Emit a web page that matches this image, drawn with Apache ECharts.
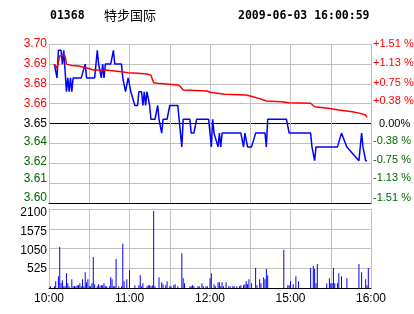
<!DOCTYPE html>
<html><head><meta charset="utf-8">
<script src="https://cdn.jsdelivr.net/npm/echarts@6/dist/echarts.min.js"></script>
<style>html,body{margin:0;padding:0;background:#fff;}#c{width:414px;height:314px;}</style>
</head><body><div id="c"></div>
<script>
const stockCode = '01368';
const stockName = '特步国际';
const stampText = '2009-06-03 16:00:59';

const priceTickLabels = ['3.60','3.61','3.62','3.64','3.65','3.66','3.68','3.69','3.70'];
const pctTickLabels = ['-1.51 %','-1.13 %','-0.75 %','-0.38 %','0.00%','+0.38 %','+0.75 %','+1.13 %','+1.51 %'];
const volTickLabels = ['', '525', '1050', '1575', '2100'];
const timeTickLabels = ['10:00', '', '11:00', '', '12:00', '', '15:00', '', '16:00'];

const priceTimes = ['10:04','10:05','10:06','10:07','10:09','10:10','10:11','10:12','10:13','10:14','10:15','10:16','10:17','10:18','10:24','10:27','10:28','10:34','10:36','10:37','10:39','10:40','10:41','10:42','10:46','10:48','10:49','10:54','10:55','10:56','10:57','10:58','10:59','11:01','11:02','11:04','11:06','11:07','11:09','11:10','11:11','11:12','11:13','11:15','11:16','11:19','11:21','11:22','11:24','11:25','11:28','11:30','11:36','11:37','11:38','11:39','11:40','11:45','11:46','11:48','11:50','11:59','12:00','12:01','12:02','12:03','12:04','12:06','12:07','12:08','12:09','12:23','12:25','12:26','12:27','12:28','14:31','14:34','14:41','14:42','14:43','14:57','14:59','15:15','15:16','15:18','15:19','15:35','15:38','15:42','15:51','15:53','15:54','15:56','15:57'];
const prices = [3.69,3.69,3.68,3.70,3.70,3.69,3.70,3.70,3.67,3.68,3.67,3.68,3.67,3.68,3.68,3.69,3.68,3.68,3.70,3.69,3.68,3.69,3.68,3.69,3.69,3.70,3.69,3.69,3.68,3.68,3.67,3.67,3.68,3.67,3.67,3.66,3.66,3.67,3.67,3.66,3.67,3.66,3.67,3.66,3.65,3.65,3.66,3.65,3.64,3.65,3.65,3.66,3.66,3.65,3.64,3.63,3.65,3.65,3.64,3.64,3.65,3.65,3.64,3.63,3.65,3.64,3.64,3.63,3.64,3.63,3.64,3.64,3.63,3.64,3.64,3.63,3.63,3.64,3.64,3.63,3.65,3.65,3.64,3.64,3.63,3.62,3.63,3.63,3.64,3.63,3.62,3.64,3.63,3.62,3.62];

const avgTimes = ['10:04','10:06','10:08','10:12','10:13','10:17','10:22','10:29','10:33','10:42','10:54','10:59','11:06','11:13','11:16','11:18','11:21','11:36','11:38','11:40','11:58','12:00','12:11','12:27','14:32','14:37','14:42','14:53','14:59','15:15','15:18','15:28','15:36','15:46','15:52','15:56','15:57'];
const avgPrices = [3.690,3.687,3.696,3.696,3.690,3.689,3.6886,3.687,3.6857,3.6857,3.6845,3.6838,3.6833,3.6828,3.6820,3.6765,3.6761,3.6749,3.6736,3.6712,3.6705,3.6696,3.6681,3.6676,3.6664,3.6650,3.6633,3.6628,3.6620,3.6616,3.6591,3.6580,3.6567,3.6555,3.6543,3.6531,3.6514];

const volTimes = ['10:01','10:04','10:05','10:07','10:08','10:09','10:10','10:11','10:12','10:13','10:14','10:15','10:17','10:18','10:19','10:20','10:21','10:22','10:23','10:24','10:25','10:26','10:27','10:28','10:29','10:30','10:31','10:32','10:33','10:34','10:36','10:37','10:38','10:39','10:40','10:41','10:42','10:43','10:45','10:46','10:47','10:48','10:49','10:50','10:52','10:54','10:55','10:56','10:58','11:00','11:04','11:07','11:08','11:09','11:10','11:13','11:14','11:15','11:16','11:17','11:18','11:19','11:22','11:24','11:25','11:27','11:28','11:30','11:31','11:33','11:34','11:36','11:39','11:40','11:41','11:45','11:46','11:47','11:48','11:51','11:52','11:54','11:55','11:57','11:58','12:00','12:01','12:03','12:04','12:06','12:07','12:08','12:09','12:10','12:12','12:14','12:15','12:17','12:18','12:20','12:22','12:23','12:25','12:26','12:27','12:28','12:29','14:31','14:34','14:35','14:37','14:38','14:40','14:41','14:42','14:43','14:55','14:58','14:59','15:00','15:02','15:04','15:06','15:15','15:17','15:18','15:19','15:20','15:27','15:29','15:30','15:31','15:32','15:33','15:35','15:36','15:38','15:42','15:51','15:53','15:56','15:57','15:58'];
const volumes = [45,45,180,315,1095,135,205,45,45,395,125,45,233,45,45,45,70,70,125,45,233,45,420,150,233,45,45,125,825,100,45,100,45,70,70,125,45,45,45,287,233,45,45,771,45,45,1175,180,233,475,70,70,340,45,125,45,70,70,45,70,2050,45,287,150,100,70,180,45,45,70,100,45,924,260,125,45,45,70,45,45,45,125,45,45,45,260,395,100,45,150,150,45,150,45,150,45,45,45,45,45,45,70,70,100,180,100,233,125,530,70,233,125,287,233,502,340,1014,70,70,180,100,315,180,530,583,502,125,637,125,260,125,125,530,125,125,395,315,260,637,420,233,70,530];

// trading-minute index: 10:00-12:30 then 14:30-16:00
function tIdx(t) {
  const p = t.split(':');
  const mins = (+p[0]) * 60 + (+p[1]);
  return mins <= 750 ? mins - 600 : 150 + (mins - 870);
}
const priceData = priceTimes.map((t, i) => [tIdx(t), prices[i]]);
const avgData = avgTimes.map((t, i) => [tIdx(t), avgPrices[i]]);
const volData = volTimes.map((t, i) => [tIdx(t), volumes[i]]);

const RED = '#ff0000', GREEN = '#006600', GRID = '#c0c0c0';
const labelFont = 'Liberation Sans, Arial, sans-serif';

// label styling (vertical nudges in px, + = up)
const leftNudge = [5.5, 4, 1.5, 1.5, 0, 0, 0, 0, 0];
const rightNudge = [5, 5, 3, 2.5, 0, 2.5, 1, 0.5, 0];
const volNudge = [0, -0.7, -1.7, -3, -3.7];
function padFor(d, left) {
  return d >= 0 ? [0, 0, 2 * d, left || 0] : [-2 * d, 0, 0, left || 0];
}
function colorFor(i) { return i > 4 ? RED : (i < 4 ? GREEN : '#000'); }
const leftRich = {}, rightRich = {}, volRich = {};
leftNudge.forEach((d, i) => { leftRich['a' + i] = {color: colorFor(i), fontSize: 12, fontFamily: labelFont, padding: padFor(d)}; });
rightNudge.forEach((d, i) => { rightRich['b' + i] = {color: colorFor(i), fontSize: 11, fontFamily: labelFont, padding: padFor(d, i === 4 ? 6 : 0)}; });
volNudge.forEach((d, i) => { volRich['c' + i] = {color: '#000', fontSize: 12, fontFamily: labelFont, padding: padFor(d)}; });

const chart = echarts.init(document.getElementById('c'), null, {renderer: 'canvas'});
const splitColors = priceTickLabels.map((_, i) => i === 4 ? '#000000' : GRID);

chart.setOption({
  animation: false,
  backgroundColor: '#ffffff',
  grid: [
    {left: 49, right: 43, top: 44, height: 159, containLabel: false, outerBoundsMode: 'none'},
    {left: 49, right: 43, top: 209, height: 79, containLabel: false, outerBoundsMode: 'none'}
  ],
  xAxis: [
    {gridIndex: 0, type: 'value', min: 0, max: 240, interval: 30,
     axisLine: {show: true, onZero: false, lineStyle: {color: '#000', width: 1}},
     axisTick: {show: false}, axisLabel: {show: false},
     splitLine: {show: true, lineStyle: {color: GRID, width: 1}}},
    {gridIndex: 1, type: 'value', min: 0, max: 240, interval: 30,
     axisLine: {show: true, onZero: false, lineStyle: {color: '#000', width: 1}},
     axisTick: {show: false},
     axisLabel: {show: true, margin: 5, fontSize: 12, fontFamily: labelFont, color: '#000',
       showMinLabel: true, showMaxLabel: true, hideOverlap: false,
       formatter: v => timeTickLabels[Math.round(v / 30)] || ''},
     splitLine: {show: true, lineStyle: {color: GRID, width: 1}}}
  ],
  yAxis: [
    {gridIndex: 0, type: 'value', show: false, min: 3.58935, max: 3.70457},
    {gridIndex: 0, type: 'value', position: 'left', min: 0, max: 8, interval: 1,
     axisLine: {show: false}, axisTick: {show: false},
     splitLine: {show: true, lineStyle: {color: splitColors, width: 1}},
     axisLabel: {show: true, margin: 2, showMinLabel: true, showMaxLabel: true, hideOverlap: false,
       formatter: v => { const i = Math.round(v); return '{a' + i + '|' + priceTickLabels[i] + '}'; },
       rich: leftRich}},
    {gridIndex: 0, type: 'value', position: 'right', min: 0, max: 8, interval: 1,
     axisLine: {show: false}, axisTick: {show: false}, splitLine: {show: false},
     axisLabel: {show: true, margin: 2, showMinLabel: true, showMaxLabel: true, hideOverlap: false,
       formatter: v => { const i = Math.round(v); return '{b' + i + '|' + pctTickLabels[i] + '}'; },
       rich: rightRich}},
    {gridIndex: 1, type: 'value', position: 'left', min: 0, max: 2100, interval: 525,
     axisLine: {show: false}, axisTick: {show: false},
     splitLine: {show: true, lineStyle: {color: GRID, width: 1}},
     axisLabel: {show: true, margin: 2, showMinLabel: true, showMaxLabel: true, hideOverlap: false,
       formatter: v => { const i = Math.round(v / 525); return volTickLabels[i] ? '{c' + i + '|' + volTickLabels[i] + '}' : ''; },
       rich: volRich}}
  ],
  series: [
    {type: 'line', name: 'price', xAxisIndex: 0, yAxisIndex: 0, data: priceData,
     showSymbol: false, symbol: 'none', lineStyle: {color: '#0000ff', width: 1.5}, itemStyle: {color: '#0000ff'}, z: 3},
    {type: 'line', name: 'avg', xAxisIndex: 0, yAxisIndex: 0, data: avgData,
     showSymbol: false, symbol: 'none', lineStyle: {color: '#ff0000', width: 1.5}, itemStyle: {color: '#ff0000'}, z: 4},
    {type: 'bar', name: 'vol', xAxisIndex: 1, yAxisIndex: 3, data: volData,
     barWidth: 1, itemStyle: {color: '#0000ff'}}
  ],
  graphic: [
    {type: 'text', x: 50, y: 16, style: {text: stockCode, font: 'bold 11.5px "DejaVu Sans Mono"', fill: '#000', align: 'left', verticalAlign: 'middle'}},
    {type: 'text', x: 104, y: 15, style: {text: stockName, font: '13px "Noto Sans CJK SC"', fill: '#000', align: 'left', verticalAlign: 'middle'}},
    {type: 'text', x: 238, y: 16, style: {text: stampText, font: 'bold 11.5px "DejaVu Sans Mono"', fill: '#000', align: 'left', verticalAlign: 'middle'}}
  ]
});
</script>
</body></html>
